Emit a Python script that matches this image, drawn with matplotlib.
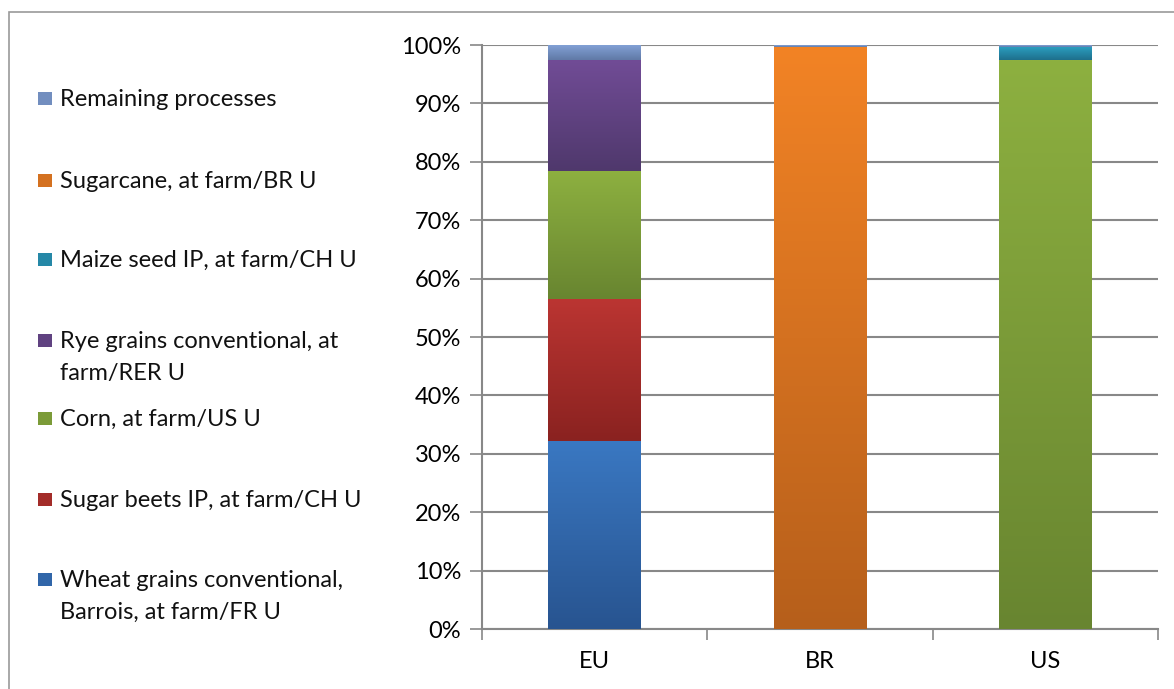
import numpy as np
import matplotlib
matplotlib.use('Agg')
import matplotlib.pyplot as plt
from matplotlib.colors import LinearSegmentedColormap
from matplotlib.patches import Rectangle

categories = ['EU', 'BR', 'US']
series = ['Wheat grains conventional,\nBarrois, at farm/FR U',
          'Sugar beets IP, at farm/CH U',
          'Corn, at farm/US U',
          'Rye grains conventional, at\nfarm/RER U',
          'Maize seed IP, at farm/CH U',
          'Sugarcane, at farm/BR U',
          'Remaining processes']
wheat = [32.2, 0, 0]
sugar_beets = [24.3, 0, 0]
corn = [21.9, 0, 97.4]
rye = [19.0, 0, 0]
maize = [0, 0, 2.3]
sugarcane = [0, 99.7, 0]
remaining = [2.6, 0.3, 0.3]
values = [wheat, sugar_beets, corn, rye, maize, sugarcane, remaining]

# top / bottom colour of each gradient
grads = [('#3a78c2', '#285490'),
         ('#bb3532', '#8a2220'),
         ('#8db040', '#688530'),
         ('#714c96', '#4f386c'),
         ('#2ca0c2', '#1e6f8c'),
         ('#f28325', '#b65f1b'),
         ('#84a3d8', '#6079a6')]

FS = 17
plt.rcParams['font.family'] = ['Lato', 'DejaVu Sans']
W, H = 1174, 689
fig = plt.figure(figsize=(W / 100, H / 100), dpi=100)
ax = fig.add_axes([482 / W, 1 - 629 / H, (1158 - 482) / W, (629 - 45) / H])

x = np.arange(len(categories))
width = 0.41
bottom = np.zeros(len(categories))
for vals, (ctop, cbot) in zip(values, grads):
    vals = np.array(vals, dtype=float)
    bars = ax.bar(x, vals, width, bottom=bottom, color=cbot, linewidth=0, zorder=3)
    cmap = LinearSegmentedColormap.from_list('g', [cbot, ctop])
    grad = np.linspace(0, 1, 256).reshape(-1, 1)
    for b, xi, v, b0 in zip(bars, x, vals, bottom):
        if v <= 0:
            continue
        im = ax.imshow(grad, cmap=cmap, origin='lower', aspect='auto',
                       extent=(xi - width / 2, xi + width / 2, b0, b0 + v), zorder=3)
        im.set_clip_path(b)
    bottom += vals

ax.set_xlim(-0.5, 2.5)
ax.set_ylim(0, 100)
ax.set_yticks(np.arange(0, 101, 10))
ax.set_yticklabels([f'{v}%' for v in range(0, 101, 10)])
ax.set_xticks(x)
ax.set_xticklabels(categories)
ax.set_xticks([-0.5, 0.5, 1.5, 2.5], minor=True)
ax.tick_params(axis='x', which='major', length=0, pad=16, labelsize=FS)
ax.tick_params(axis='x', which='minor', length=8, width=1.2, color='#888888', direction='out')
ax.tick_params(axis='y', length=9, width=1.2, color='#888888', direction='out', pad=6, labelsize=FS)
ax.grid(axis='y', color='#888888', linewidth=1.5, zorder=0)
ax.set_axisbelow(True)
for s in ['top', 'right']:
    ax.spines[s].set_visible(False)
for s in ['left', 'bottom']:
    ax.spines[s].set_color('#888888')
    ax.spines[s].set_linewidth(1.5)

# legend, drawn by hand (Remaining on top)
leg_y = [579, 499, 418, 340, 259, 180, 98]
for lab, (ctop, cbot), yy in zip(series, grads, leg_y):
    c = LinearSegmentedColormap.from_list('m', [cbot, ctop])(0.5)
    fig.patches.append(Rectangle((38 / W, 1 - (yy + 7) / H), 14 / W, 13 / H,
                                 transform=fig.transFigure, facecolor=c,
                                 edgecolor='none'))
    for i, line in enumerate(lab.split('\n')):
        fig.text(60 / W, 1 - (yy + 8 + 32 * i) / H, line, fontsize=FS,
                 va='baseline', ha='left', color='#111111')

# outer chart frame
fig.patches.append(Rectangle((8.5 / W, -0.1), 1.2, 1 - 12 / H + 0.1,
                             transform=fig.transFigure, fill=False,
                             edgecolor='#9a9a9a', linewidth=1.2))

fig.savefig('out.png', dpi=100)
